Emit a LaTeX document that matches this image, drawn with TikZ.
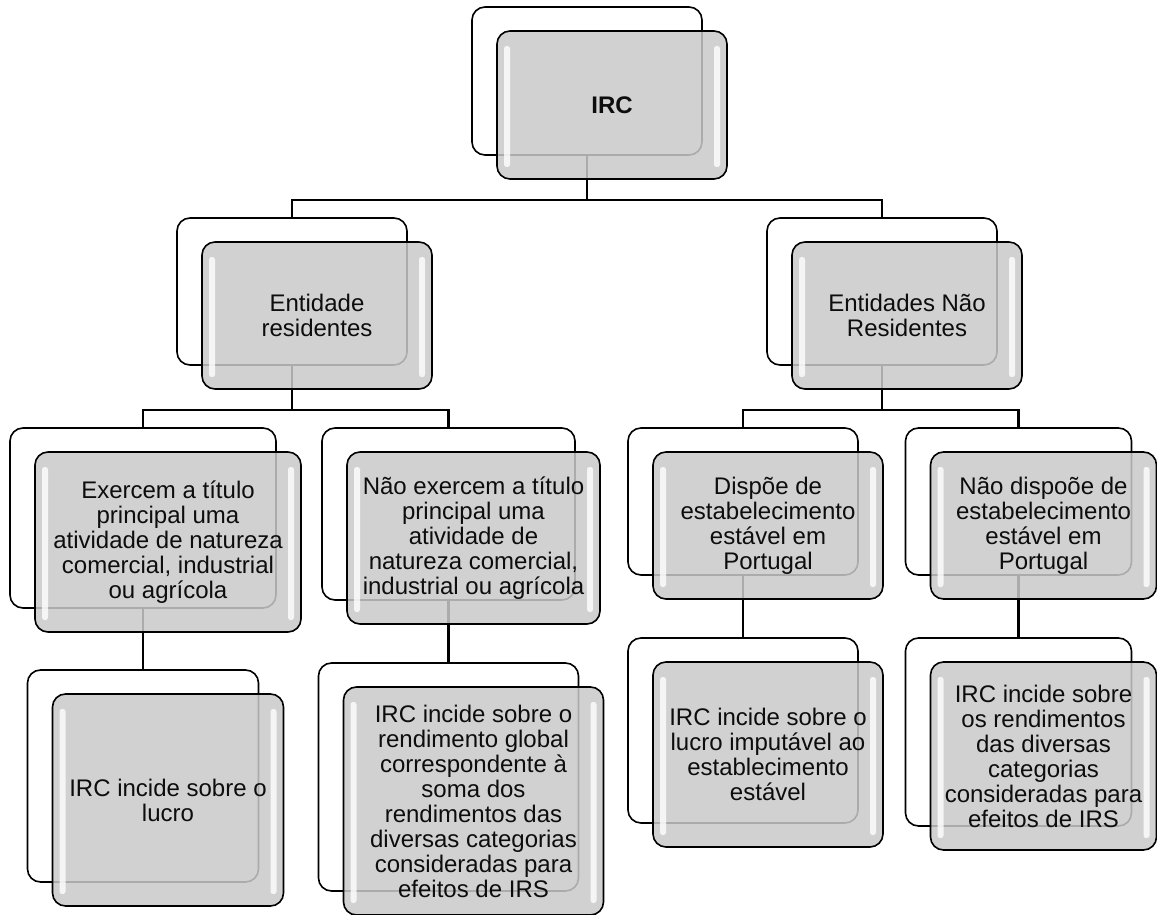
\documentclass[tikz,border=0pt]{standalone}
\usepackage{fontspec}
\setmainfont{Liberation Sans}
\usetikzlibrary{backgrounds}

\tikzset{
  backcard/.style={draw=black, line width=1.6pt, rounded corners=13pt, fill=white, inner sep=0pt},
  frontcard/.style={draw=black, line width=1.6pt, rounded corners=13pt,
    fill=black!21, fill opacity=0.85, text opacity=1, text=black!95,
    inner sep=0pt, align=center, font=\fontsize{24}{25}\selectfont,
    path picture={
      \fill[white, opacity=0.8, rounded corners=2.5pt]
        ([xshift=7pt,yshift=-15pt]path picture bounding box.north west) rectangle
        ([xshift=13pt,yshift=12pt]path picture bounding box.south west);
      \fill[white, opacity=0.8, rounded corners=2.5pt]
        ([xshift=-7pt,yshift=-15pt]path picture bounding box.north east) rectangle
        ([xshift=-13pt,yshift=12pt]path picture bounding box.south east);
    }},
  link/.style={draw=black, line width=2.6pt},
}

% name, x, y, width, height, text
\newcommand{\cardpair}[6]{%
  \node[backcard, minimum width=#4, minimum height=#5] (#1-b) at (#2,#3) {};
  \node[frontcard, minimum width=#4, minimum height=#5] (#1) at ([shift={(25,24)}]#1-b.center) {#6};
}

\begin{document}
\begin{tikzpicture}[x=1pt, y=-1pt]
  \useasboundingbox (0,0) rectangle (1157,915);

  \cardpair{irc}{587}{81}{230pt}{148pt}{\textbf{IRC}}

  \cardpair{res}{292}{291.5}{230pt}{147pt}{Entidade\\residentes}

  \cardpair{nres}{882}{291.5}{230pt}{147pt}{Entidades Não\\Residentes}

  \cardpair{exerc}{143}{518}{266pt}{180pt}{Exercem a título\\principal uma\\atividade de natureza\\comercial, industrial\\ou agrícola}

  \cardpair{naoexerc}{448.5}{514}{253pt}{172pt}{Não exercem a título\\principal uma\\atividade de\\natureza comercial,\\industrial ou agrícola}

  \cardpair{dispoe}{743}{501.5}{230pt}{147pt}{Dispõe de\\estabelecimento\\estável em\\Portugal}

  \cardpair{naodispoe}{1018.5}{501.5}{226pt}{147pt}{Não dispoõe de\\estabelecimento\\estável em\\Portugal}

  \cardpair{lucro}{143}{776}{231pt}{212pt}{IRC incide sobre o\\lucro}

  \cardpair{global}{448.5}{777}{260pt}{228pt}{IRC incide sobre o\\rendimento global\\correspondente à\\soma dos\\rendimentos das\\diversas categorias\\consideradas para\\efeitos de IRS}

  \cardpair{imput}{743}{730.5}{230pt}{185pt}{IRC incide sobre o\\lucro imputável ao\\establecimento\\estável}

  \cardpair{categ}{1018.5}{732}{226pt}{188pt}{IRC incide sobre\\os rendimentos\\das diversas\\categorias\\consideradas para\\efeitos de IRS}

  \begin{scope}[on background layer]
    \draw[link] (irc-b.south) -- ++(0,44) -| (res-b.north);
    \draw[link] (irc-b.south) -- ++(0,44) -| (nres-b.north);
    \draw[link] (res-b.south) -- ++(0,44) -| (exerc-b.north);
    \draw[link] (res-b.south) -- ++(0,44) -| (naoexerc-b.north);
    \draw[link] (nres-b.south) -- ++(0,44) -| (dispoe-b.north);
    \draw[link] (nres-b.south) -- ++(0,44) -| (naodispoe-b.north);
    \draw[link] (exerc-b.south) -- (lucro-b.north);
    \draw[link] (naoexerc-b.south) -- (global-b.north);
    \draw[link] (dispoe-b.south) -- (imput-b.north);
    \draw[link] (naodispoe-b.south) -- (categ-b.north);
  \end{scope}
\end{tikzpicture}
\end{document}
